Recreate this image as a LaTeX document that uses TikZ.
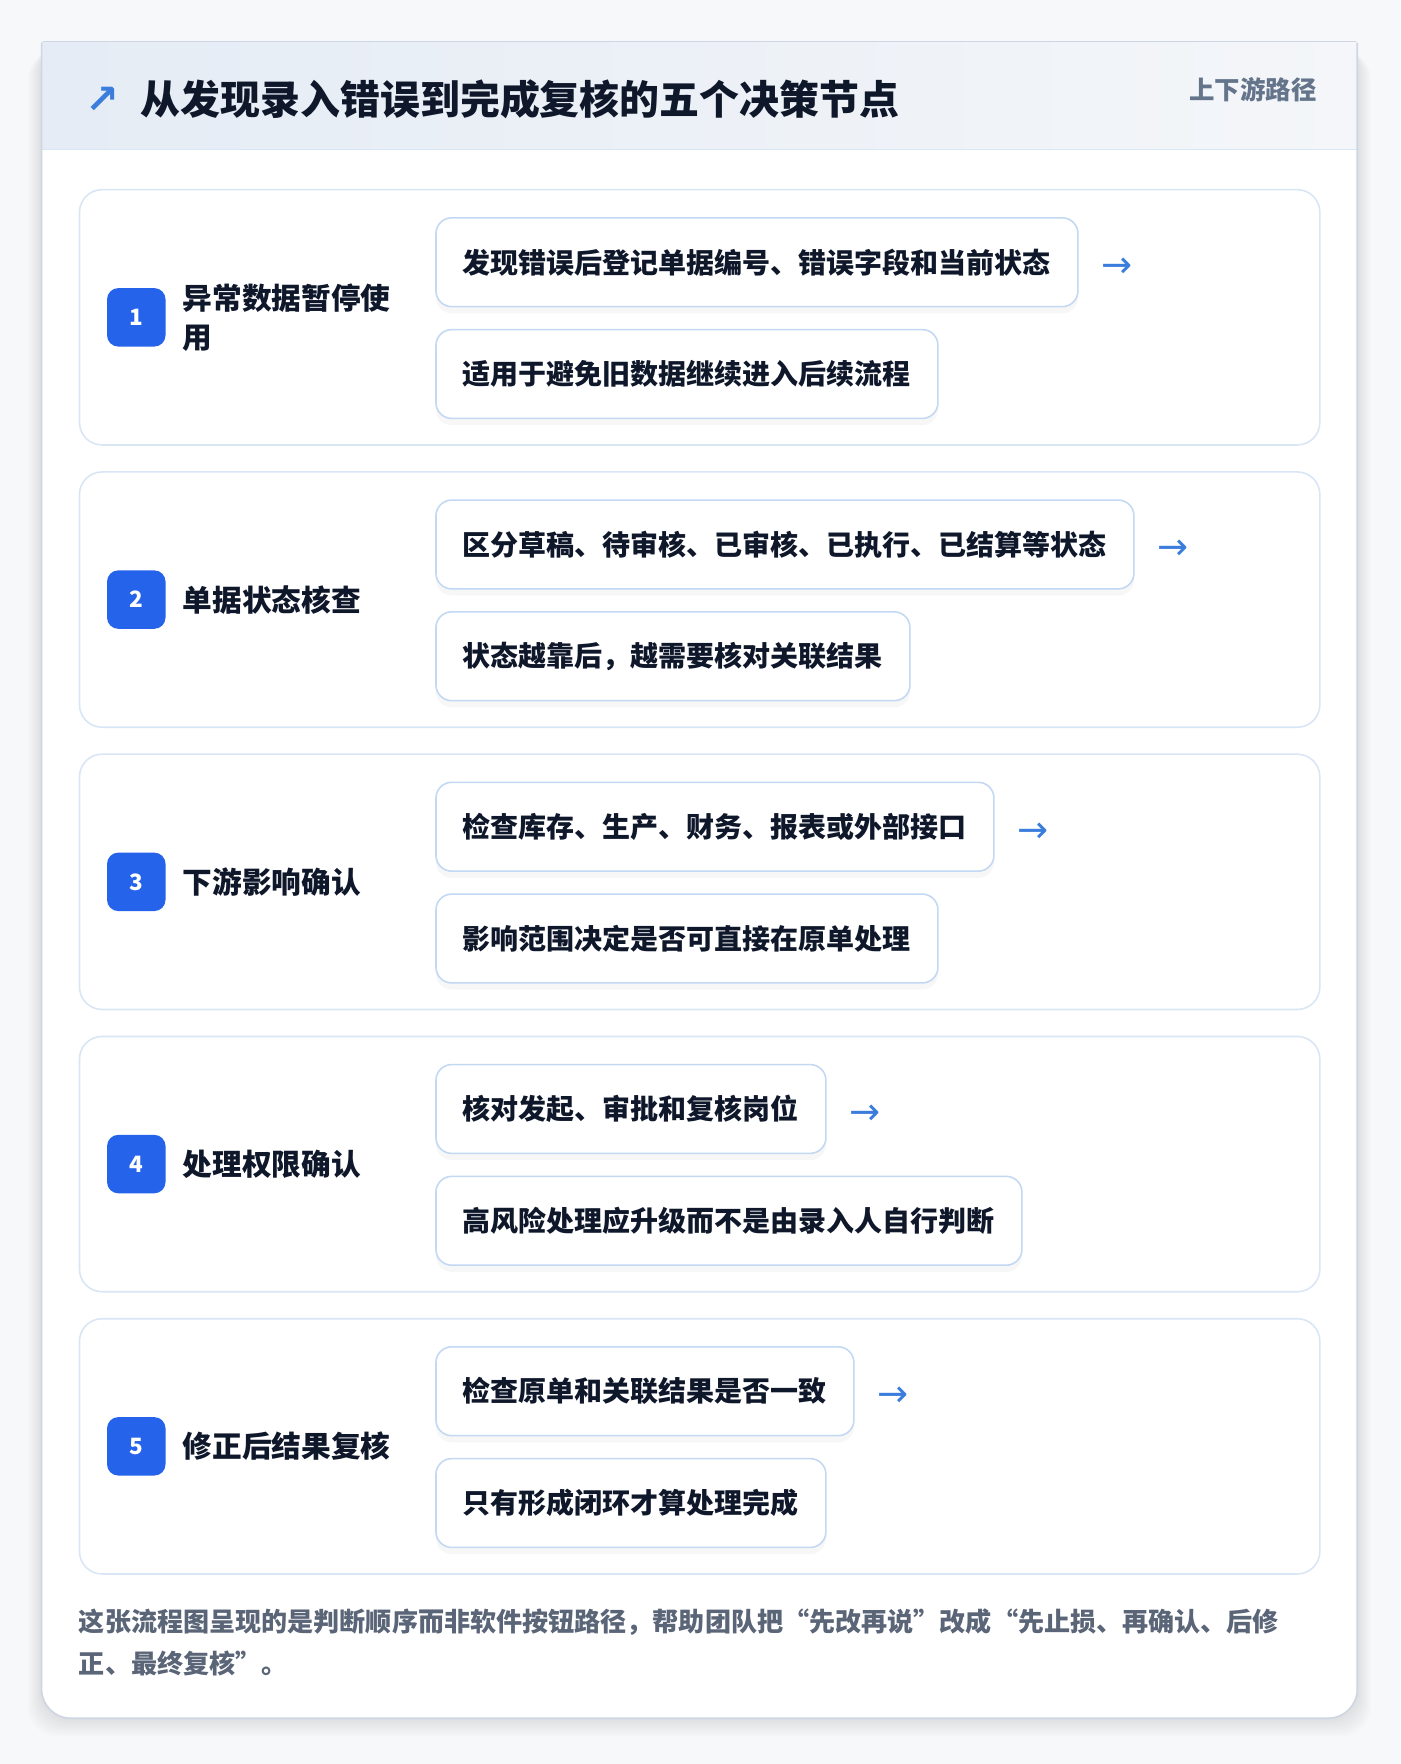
\documentclass[tikz,border=0pt]{standalone}
\usepackage{fontspec}
\setmainfont{Noto Sans CJK SC}
\newfontfamily\arrowfont{DejaVu Sans}
\usetikzlibrary{calc,positioning,shadows}

\definecolor{pagebg}{HTML}{F7F8FA}
\definecolor{cardline}{HTML}{CDD6E2}
\definecolor{headl}{HTML}{E5ECF5}
\definecolor{headr}{HTML}{F4F6F9}
\definecolor{ink}{HTML}{0F172A}
\definecolor{muted}{HTML}{64748B}
\definecolor{note}{HTML}{5B6578}
\definecolor{panelline}{HTML}{D9E6F6}
\definecolor{boxline}{HTML}{C3D8F3}
\definecolor{badgeblue}{HTML}{2563EB}
\definecolor{arrowblue}{HTML}{3B7DDD}

\begin{document}
\begin{tikzpicture}[x=1pt,y=-1pt]
\tikzstyle{panel}=[draw=panelline,line width=1.4pt,fill=white,rounded corners=20pt,minimum width=1103pt,minimum height=227pt,inner sep=0pt]
\tikzstyle{badge}=[fill=badgeblue,rounded corners=10pt,minimum size=52pt,inner sep=0pt,text=white,font=\bfseries\fontsize{20}{20}\selectfont]
\tikzstyle{steptitle}=[text=ink,align=left,inner sep=0pt,font=\bfseries\fontsize{26.4}{35}\selectfont]
\tikzstyle{item}=[draw=boxline,line width=1.4pt,fill=white,rounded corners=14pt,minimum height=79pt,inner xsep=24pt,inner ysep=0pt,text=ink,font=\bfseries\fontsize{24.9}{25}\selectfont,drop shadow={opacity=0.06,shadow xshift=0pt,shadow yshift=-6pt}]
\tikzstyle{nextarrow}=[text=arrowblue,inner sep=0pt,font=\arrowfont\fontsize{33}{33}\selectfont]

\useasboundingbox (0,0) rectangle (1245,1568.7);
\fill [pagebg] (0,0) rectangle (1245,1568.7);

% card with soft shadow
\foreach \s in {1,...,8}
  \fill [black,opacity=0.012,rounded corners=26pt] (37-1.5*\s,37+\s) rectangle (1207+1.5*\s,1528+2*\s);
\fill [white,rounded corners=26pt] (37,37) rectangle (1207,1528);
\fill [left color=headl,right color=headr] (37,37) rectangle (1207,133);
\draw [panelline,line width=1.2pt] (37,133) -- (1207,133);
\draw [cardline,line width=1.4pt,rounded corners=26pt] (37,38) -- (37,1528) -- (1207,1528) -- (1207,38);
\draw [cardline,line width=1.4pt] (38,37) -- (1206,37);

\node (arrow) [anchor=center,text=arrowblue,font=\arrowfont\bfseries\fontsize{36}{36}\selectfont] at (91,89) {↗};
\node (title) [anchor=west,inner sep=0pt,text=ink,font=\bfseries\fontsize{35.5}{36}\selectfont] at (125,88) {从发现录入错误到完成复核的五个决策节点};
\node (tag) [anchor=east,inner sep=0pt,text=muted,font=\bfseries\fontsize{22.6}{23}\selectfont] at (1171,80) {上下游路径};

\foreach \k/\ttl/\ia/\ib in {
  1/{异常数据暂停使\\用}/{发现错误后登记单据编号、错误字段和当前状态}/{适用于避免旧数据继续进入后续流程},
  2/{单据状态核查}/{区分草稿、待审核、已审核、已执行、已结算等状态}/{状态越靠后，越需要核对关联结果},
  3/{下游影响确认}/{检查库存、生产、财务、报表或外部接口}/{影响范围决定是否可直接在原单处理},
  4/{处理权限确认}/{核对发起、审批和复核岗位}/{高风险处理应升级而不是由录入人自行判断},
  5/{修正后结果复核}/{检查原单和关联结果是否一致}/{只有形成闭环才算处理完成}}
{
  \pgfmathsetmacro\top{168+251*(\k-1)}
  \node (p\k) [panel,anchor=north west] at (70,\top) {};
  \node (b\k) [badge,right=25pt of p\k.west] {\k};
  \node (t\k) [steptitle,right=15pt of b\k] {\ttl};
  \node (ia\k) [item,anchor=north west] at (387,\top+25) {\ia};
  \node (ib\k) [item,below right=19pt and 0pt of ia\k.south west] {\ib};
  \node (ar\k) [nextarrow,right=20pt of ia\k,yshift=-5pt] {→};
}

\node (footnote) [anchor=north west,inner sep=0pt,align=left,text=note,font=\bfseries\fontsize{23.2}{38}\selectfont] at (70,1430) {这张流程图呈现的是判断顺序而非软件按钮路径，帮助团队把“先改再说”改成“先止损、再确认、后修\\正、最终复核”。};
\end{tikzpicture}
\end{document}
